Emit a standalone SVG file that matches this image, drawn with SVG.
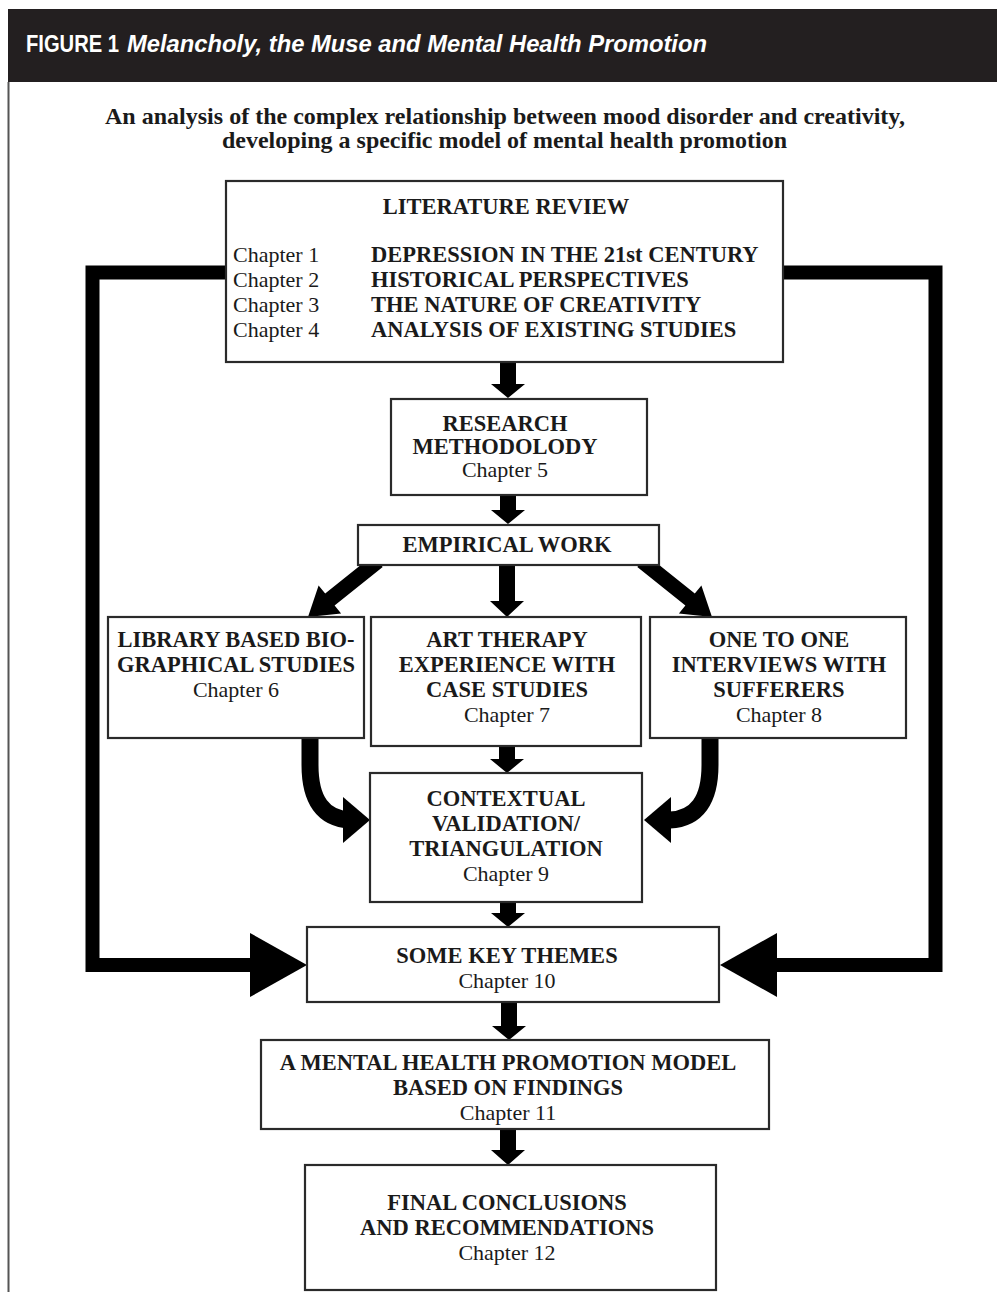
<svg xmlns="http://www.w3.org/2000/svg" width="997" height="1292" viewBox="0 0 997 1292">
<style>
.box{fill:#fff;stroke:#2a2a2a;stroke-width:2.2}
.b{font-family:"Liberation Serif","Times New Roman",serif;font-weight:bold;font-size:22.5px;fill:#1a1a1a;text-anchor:middle}
.r{font-family:"Liberation Serif","Times New Roman",serif;font-size:22px;fill:#1a1a1a;text-anchor:middle}
.bl{font-family:"Liberation Serif","Times New Roman",serif;font-weight:bold;font-size:22.5px;fill:#1a1a1a}
.rl{font-family:"Liberation Serif","Times New Roman",serif;font-size:22px;fill:#1a1a1a}
.ar{fill:#000}
.bar{fill:none;stroke:#000;stroke-width:14;stroke-linejoin:miter}
.cv{fill:none;stroke:#000;stroke-width:17}
</style>
<rect x="0" y="0" width="997" height="1292" fill="#fff"/>
<g id="frame">
<rect x="8" y="9" width="989" height="73" fill="#231f20"/>
<line x1="8.5" y1="82" x2="8.5" y2="1292" stroke="#555" stroke-width="2"/>
<text x="26" y="52" font-family="'Liberation Sans',Arial,sans-serif" font-weight="bold" font-size="24" fill="#fff" textLength="93" lengthAdjust="spacingAndGlyphs">FIGURE 1</text>
<text x="127" y="52" font-family="'Liberation Sans',Arial,sans-serif" font-weight="bold" font-style="italic" font-size="24" fill="#fff" textLength="580" lengthAdjust="spacingAndGlyphs">Melancholy, the Muse and Mental Health Promotion</text>
<text x="105" y="124" class="bl" font-size="25" textLength="800" lengthAdjust="spacingAndGlyphs">An analysis of the complex relationship between mood disorder and creativity,</text>
<text x="222" y="148" class="bl" font-size="25" textLength="565" lengthAdjust="spacingAndGlyphs">developing a specific model of mental health promotion</text>
</g>
<g id="connectors">
<path class="bar" d="M230 272.5 L92.5 272.5 L92.5 965 L255 965"/>
<polygon class="ar" points="250,933 307,965 250,997"/>
<path class="bar" d="M780 272.5 L935.5 272.5 L935.5 965 L772 965"/>
<polygon class="ar" points="777,933 720,965 777,997"/>
<polygon class="ar" points="500,355 516,355 516,384 525,384 508,398 491,384 500,384"/>
<polygon class="ar" points="500,490 516,490 516,510 525,510 508,524 491,510 500,510"/>
<polygon class="ar" points="499,560 515,560 515,601 524,601 507,617 490,601 499,601"/>
<polygon class="ar" points="382.7,566.9 334.6,605.4 341.1,613.6 308,617 318.6,585.4 325.2,593.6 373.3,555.1"/>
<polygon class="ar" points="637.3,566.9 685.4,605.4 678.9,613.6 712,617 701.4,585.4 694.8,593.6 646.7,555.1"/>
<polygon class="ar" points="499,740 515,740 515,759 524,759 507,773 490,759 499,759"/>
<polygon class="ar" points="500,895 516,895 516,913 525,913 508,927 491,913 500,913"/>
<polygon class="ar" points="501,995 517,995 517,1026 526,1026 509,1040 492,1026 501,1026"/>
<polygon class="ar" points="500,1122 516,1122 516,1150 525,1150 508,1165 491,1150 500,1150"/>
<path class="cv" d="M310 732 L310 765 Q310 818 350 820"/>
<polygon class="ar" points="343,797 370,820 343,843"/>
<path class="cv" d="M710 732 L710 765 Q710 818 670 820"/>
<polygon class="ar" points="671,797 644,820 671,843"/>
</g>
<g id="n-lit">
<rect class="box" x="226" y="181" width="557" height="181"/>
<text class="b" x="506" y="214">LITERATURE REVIEW</text>
<text class="rl" x="233" y="262">Chapter 1</text>
<text class="rl" x="233" y="287">Chapter 2</text>
<text class="rl" x="233" y="312">Chapter 3</text>
<text class="rl" x="233" y="337">Chapter 4</text>
<text class="bl" x="371" y="262">DEPRESSION IN THE 21st CENTURY</text>
<text class="bl" x="371" y="287">HISTORICAL PERSPECTIVES</text>
<text class="bl" x="371" y="312">THE NATURE OF CREATIVITY</text>
<text class="bl" x="371" y="337">ANALYSIS OF EXISTING STUDIES</text>
</g>
<g id="n-research">
<rect class="box" x="391" y="399" width="256" height="96"/>
<text class="b" x="505" y="431">RESEARCH</text>
<text class="b" x="505" y="454">METHODOLODY</text>
<text class="r" x="505" y="477">Chapter 5</text>
</g>
<g id="n-empirical">
<rect class="box" x="358" y="525" width="301" height="40"/>
<text class="b" x="507" y="552">EMPIRICAL WORK</text>
</g>
<g id="n-library">
<rect class="box" x="108" y="617" width="256" height="121"/>
<text class="b" x="236" y="647">LIBRARY BASED BIO-</text>
<text class="b" x="236" y="672">GRAPHICAL STUDIES</text>
<text class="r" x="236" y="697">Chapter 6</text>
</g>
<g id="n-art">
<rect class="box" x="371" y="617" width="270" height="129"/>
<text class="b" x="507" y="647">ART THERAPY</text>
<text class="b" x="507" y="672">EXPERIENCE WITH</text>
<text class="b" x="507" y="697">CASE STUDIES</text>
<text class="r" x="507" y="722">Chapter 7</text>
</g>
<g id="n-interviews">
<rect class="box" x="650" y="617" width="256" height="121"/>
<text class="b" x="779" y="647">ONE TO ONE</text>
<text class="b" x="779" y="672">INTERVIEWS WITH</text>
<text class="b" x="779" y="697">SUFFERERS</text>
<text class="r" x="779" y="722">Chapter 8</text>
</g>
<g id="n-contextual">
<rect class="box" x="370" y="773" width="272" height="129"/>
<text class="b" x="506" y="806">CONTEXTUAL</text>
<text class="b" x="506" y="831">VALIDATION/</text>
<text class="b" x="506" y="856">TRIANGULATION</text>
<text class="r" x="506" y="881">Chapter 9</text>
</g>
<g id="n-themes">
<rect class="box" x="307" y="927" width="412" height="75"/>
<text class="b" x="507" y="963">SOME KEY THEMES</text>
<text class="r" x="507" y="988">Chapter 10</text>
</g>
<g id="n-model">
<rect class="box" x="261" y="1040" width="508" height="89"/>
<text class="b" x="508" y="1070">A MENTAL HEALTH PROMOTION MODEL</text>
<text class="b" x="508" y="1095">BASED ON FINDINGS</text>
<text class="r" x="508" y="1120">Chapter 11</text>
</g>
<g id="n-final">
<rect class="box" x="305" y="1165" width="411" height="125"/>
<text class="b" x="507" y="1210">FINAL CONCLUSIONS</text>
<text class="b" x="507" y="1235">AND RECOMMENDATIONS</text>
<text class="r" x="507" y="1260">Chapter 12</text>
</g>
</svg>
